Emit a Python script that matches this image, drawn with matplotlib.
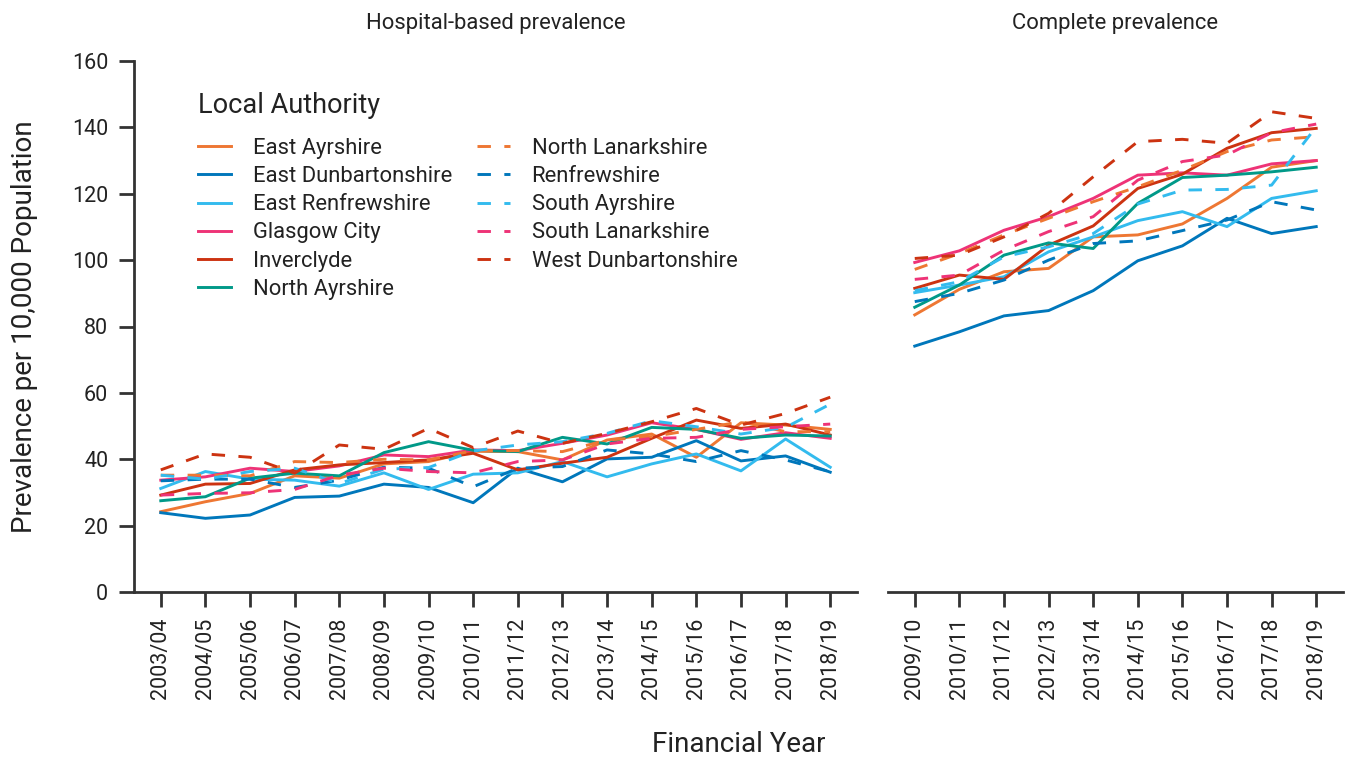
import matplotlib
matplotlib.use('Agg')
from matplotlib import pyplot as plt

plt.rcParams['font.family'] = ['Roboto', 'DejaVu Sans']

# financial years for the two panels
hosp_years = ['2003/04', '2004/05', '2005/06', '2006/07', '2007/08', '2008/09',
              '2009/10', '2010/11', '2011/12', '2012/13', '2013/14', '2014/15',
              '2015/16', '2016/17', '2017/18', '2018/19']
comp_years = ['2009/10', '2010/11', '2011/12', '2012/13', '2013/14',
              '2014/15', '2015/16', '2016/17', '2017/18', '2018/19']

authorities = ['East Ayrshire', 'East Dunbartonshire', 'East Renfrewshire',
               'Glasgow City', 'Inverclyde', 'North Ayrshire',
               'North Lanarkshire', 'Renfrewshire', 'South Ayrshire',
               'South Lanarkshire', 'West Dunbartonshire']

# hospital-based prevalence per 10,000
hosp_east_ayrshire = [24.2, 27.2, 29.7, 35.0, 34.3, 38.6, 39.3, 42.4, 42.3, 39.8, 45.8, 47.6, 40.6, 51.0, 50.3, 49.0]
hosp_east_dunbarton = [23.9, 22.2, 23.2, 28.5, 28.9, 32.5, 31.5, 26.9, 37.3, 33.2, 40.1, 40.6, 45.6, 39.5, 41.0, 36.1]
hosp_east_renfrew = [31.2, 36.3, 34.0, 33.7, 31.9, 35.9, 30.9, 35.5, 35.9, 39.3, 34.7, 38.6, 41.6, 36.5, 46.1, 37.6]
hosp_glasgow = [33.7, 34.7, 37.3, 36.3, 38.0, 41.3, 40.8, 42.8, 42.6, 44.8, 47.3, 51.0, 49.0, 46.0, 48.0, 46.3]
hosp_inverclyde = [29.2, 32.5, 32.7, 36.8, 38.3, 39.0, 39.8, 41.8, 36.8, 38.8, 40.6, 46.3, 51.8, 49.3, 50.6, 47.3]
hosp_north_ayrshire = [27.5, 28.7, 34.3, 35.8, 35.0, 42.0, 45.3, 42.7, 42.3, 46.6, 44.6, 49.6, 49.0, 46.3, 47.3, 47.0]
hosp_north_lanark = [35.2, 35.2, 35.0, 39.3, 39.0, 40.0, 39.8, 42.6, 42.6, 42.3, 45.8, 46.8, 49.0, 51.3, 48.3, 48.3]
hosp_renfrew = [33.5, 34.0, 34.0, 31.5, 33.7, 37.6, 37.3, 31.7, 37.3, 37.8, 42.8, 41.6, 39.3, 42.6, 39.8, 36.2]
hosp_south_ayrshire = [35.2, 34.0, 36.3, 37.3, 32.7, 37.0, 37.5, 42.5, 44.3, 45.3, 47.8, 51.6, 49.8, 47.6, 49.6, 56.6]
hosp_south_lanark = [29.2, 29.7, 29.9, 30.9, 35.2, 37.3, 36.3, 35.9, 39.3, 39.8, 44.6, 46.3, 46.6, 49.0, 49.8, 50.6]
hosp_west_dunbarton = [36.8, 41.6, 40.6, 35.8, 44.3, 43.0, 49.3, 43.5, 48.5, 44.8, 47.8, 51.3, 55.3, 50.3, 53.8, 58.7]

# complete prevalence per 10,000
comp_east_ayrshire = [83.5, 91.2, 96.5, 97.5, 107.0, 107.6, 110.9, 118.6, 128.0, 130.0]
comp_east_dunbarton = [74.1, 78.4, 83.2, 84.8, 90.8, 99.8, 104.3, 112.6, 108.0, 110.1]
comp_east_renfrew = [90.2, 92.5, 95.0, 102.5, 107.0, 111.9, 114.6, 110.1, 118.6, 120.9]
comp_glasgow = [99.3, 102.8, 109.0, 113.1, 118.6, 125.6, 126.3, 125.6, 129.0, 130.0]
comp_inverclyde = [91.5, 95.5, 94.2, 104.5, 110.3, 121.6, 125.9, 133.7, 138.4, 139.7]
comp_north_ayrshire = [85.8, 92.5, 101.5, 105.2, 103.5, 117.1, 124.9, 125.6, 126.6, 128.0]
comp_north_lanark = [97.2, 102.0, 107.6, 112.6, 117.6, 122.1, 127.1, 132.7, 136.2, 137.2]
comp_renfrew = [87.5, 90.0, 94.0, 100.0, 105.0, 105.8, 108.9, 112.1, 117.6, 115.1]
comp_south_ayrshire = [90.8, 93.5, 101.0, 104.0, 108.0, 116.9, 121.1, 121.3, 122.6, 140.2]
comp_south_lanark = [94.2, 95.5, 103.0, 108.6, 113.1, 124.1, 129.7, 131.7, 138.4, 141.0]
comp_west_dunbarton = [100.5, 101.5, 107.0, 114.1, 125.1, 135.7, 136.4, 135.2, 144.7, 142.7]

hosp = [hosp_east_ayrshire, hosp_east_dunbarton, hosp_east_renfrew, hosp_glasgow,
        hosp_inverclyde, hosp_north_ayrshire, hosp_north_lanark, hosp_renfrew,
        hosp_south_ayrshire, hosp_south_lanark, hosp_west_dunbarton]
comp = [comp_east_ayrshire, comp_east_dunbarton, comp_east_renfrew, comp_glasgow,
        comp_inverclyde, comp_north_ayrshire, comp_north_lanark, comp_renfrew,
        comp_south_ayrshire, comp_south_lanark, comp_west_dunbarton]

# paul tol "vibrant" colours, first six solid, last five dashed
palette = ['#EE7733', '#0077BB', '#33BBEE', '#EE3377', '#CC3311', '#009988']
colors = palette + palette[:5]
styles = ['solid'] * 6 + ['dashed'] * 5

text_col = '#222222'
axis_col = '#333333'

fig = plt.figure(figsize=(13.5, 7.62), dpi=100)
W, H = 1350, 762
ax1 = fig.add_axes([134 / W, 1 - 592 / H, (857 - 134) / W, (592 - 61) / H])
ax2 = fig.add_axes([888 / W, 1 - 592 / H, (1343 - 888) / W, (592 - 61) / H])

for ax, years, series in [(ax1, hosp_years, hosp), (ax2, comp_years, comp)]:
    x = range(len(years))
    for name, vals, c, ls in zip(authorities, series, colors, styles):
        line, = ax.plot(x, vals, color=c, linewidth=2.1, label=name)
        if ls == 'dashed':
            line.set_dashes((4.6, 4.6))
    ax.set_xlim(-0.6, len(years) - 1 + 0.6)
    ax.set_ylim(0, 160)
    ax.set_xticks(list(x))
    ax.set_xticklabels(years, rotation=90)
    for s in ['top', 'right']:
        ax.spines[s].set_visible(False)
    for s in ['left', 'bottom']:
        ax.spines[s].set_color(axis_col)
        ax.spines[s].set_linewidth(2)
    ax.tick_params(length=10.5, width=2, color=axis_col, labelsize=15.5,
                   labelcolor=text_col, pad=8)

ax1.set_yticks(range(0, 161, 20))
ax2.spines['left'].set_visible(False)
ax2.tick_params(axis='y', left=False, labelleft=False)

ax1.set_title('Hospital-based prevalence', fontsize=15.8, color=text_col, pad=23)
ax2.set_title('Complete prevalence', fontsize=15.8, color=text_col, pad=23)

fig.text(25 / W, 1 - 327 / H, 'Prevalence per 10,000 Population', rotation=90,
         ha='center', va='center', fontsize=20, color=text_col)
fig.text(739 / W, 1 - 744 / H, 'Financial Year', ha='center', va='center',
         fontsize=20, color=text_col)

leg = ax1.legend(loc='upper left', bbox_to_anchor=(187 / W, 1 - 81 / H),
                 bbox_transform=fig.transFigure, ncol=2, frameon=False,
                 title='Local Authority', fontsize=15.8, title_fontsize=19.5,
                 handlelength=1.5, handletextpad=1.0, columnspacing=1.12,
                 labelspacing=0.33, borderpad=0, alignment='left')
# more room between the title and the entries
leg._legend_box.sep = 13.5
for t in leg.get_texts():
    t.set_color(text_col)
leg.get_title().set_color(text_col)

fig.savefig('out.png', dpi=100)
